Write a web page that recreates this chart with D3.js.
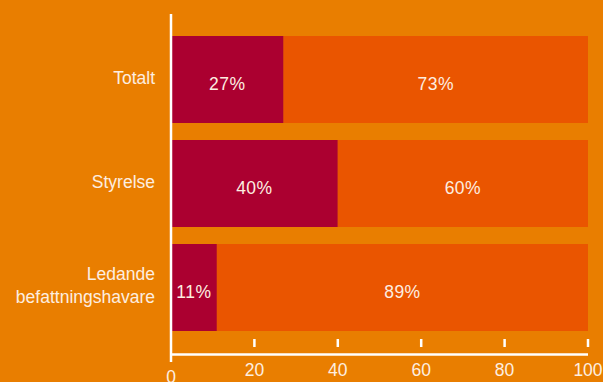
<!DOCTYPE html>
<html>
<head>
<meta charset="utf-8">
<script src="https://cdn.jsdelivr.net/npm/d3@7"></script>
<style>
  html, body { margin: 0; padding: 0; background: #e97e00; }
  svg { display: block; }
  text { font-family: "Liberation Sans", Arial, sans-serif; fill: #fdeee0; }
</style>
</head>
<body>
<div id="chart"></div>
<script>
var categories = [["Totalt"], ["Styrelse"], ["Ledande", "befattningshavare"]];
var shareA = [27, 40, 11];   // dark red part
var shareB = [73, 60, 89];   // orange part
var tickValues = [0, 20, 40, 60, 80, 100];

var w = 603, h = 382;
var fs = 17.5;

var svg = d3.select('#chart').append('svg')
    .attr('width', w)
    .attr('height', h);

svg.append('rect')
    .attr('width', w)
    .attr('height', h)
    .attr('fill', '#e97e00');

var x = d3.scaleLinear().domain([0, 100]).range([171, 588]);
var y = d3.scaleBand()
    .domain(d3.range(categories.length))
    .range([36, 331])
    .paddingInner(17 / 104)
    .paddingOuter(0);

var rows = categories.map(function (c, i) {
  return { label: c, a: shareA[i], b: shareB[i], i: i };
});

// bars
var g = svg.append('g');
rows.forEach(function (d) {
  g.append('rect')
      .attr('x', x(0))
      .attr('y', y(d.i))
      .attr('width', x(d.a) - x(0))
      .attr('height', y.bandwidth())
      .attr('fill', '#ab0030');
  g.append('rect')
      .attr('x', x(d.a))
      .attr('y', y(d.i))
      .attr('width', x(d.a + d.b) - x(d.a))
      .attr('height', y.bandwidth())
      .attr('fill', '#ea5500');

  var cy = y(d.i) + y.bandwidth() / 2;
  // percentage labels sit a bit below the bar middle
  g.append('text')
      .attr('x', (x(0) + x(d.a)) / 2)
      .attr('y', cy + 4)
      .attr('dy', '0.36em')
      .attr('text-anchor', 'middle')
      .attr('font-size', fs)
      .attr('letter-spacing', 0.5)
      .text(d.a + '%');
  g.append('text')
      .attr('x', (x(d.a) + x(d.a + d.b)) / 2)
      .attr('y', cy + 4)
      .attr('dy', '0.36em')
      .attr('text-anchor', 'middle')
      .attr('font-size', fs)
      .attr('letter-spacing', 0.5)
      .text(d.b + '%');

  // category label
  var n = d.label.length;
  var t = g.append('text')
      .attr('x', 155)
      .attr('text-anchor', 'end')
      .attr('font-size', fs);
  d.label.forEach(function (line, k) {
    t.append('tspan')
        .attr('x', 155)
        .attr('y', cy + (k - (n - 1) / 2) * 23 - 2)
        .attr('dy', '0.36em')
        .text(line);
  });
});

// x axis
var xAxis = svg.append('g');
xAxis.append('line')
    .attr('x1', x(0)).attr('x2', x(100))
    .attr('y1', 354.5).attr('y2', 354.5)
    .attr('stroke', '#fff').attr('stroke-width', 2.5);

tickValues.filter(function (v) { return v > 0; }).forEach(function (v) {
  xAxis.append('line')
      .attr('x1', x(v)).attr('x2', x(v))
      .attr('y1', 339).attr('y2', 347)
      .attr('stroke', '#fff').attr('stroke-width', 2.5);
});

tickValues.forEach(function (v) {
  xAxis.append('text')
      .attr('x', x(v))
      .attr('y', v === 0 ? 383 : 376)
      .attr('text-anchor', 'middle')
      .attr('font-size', fs)
      .text(v);
});

// y axis
svg.append('line')
    .attr('x1', 171).attr('x2', 171)
    .attr('y1', 14).attr('y2', 362)
    .attr('stroke', '#fff').attr('stroke-width', 2.5);
</script>
</body>
</html>
